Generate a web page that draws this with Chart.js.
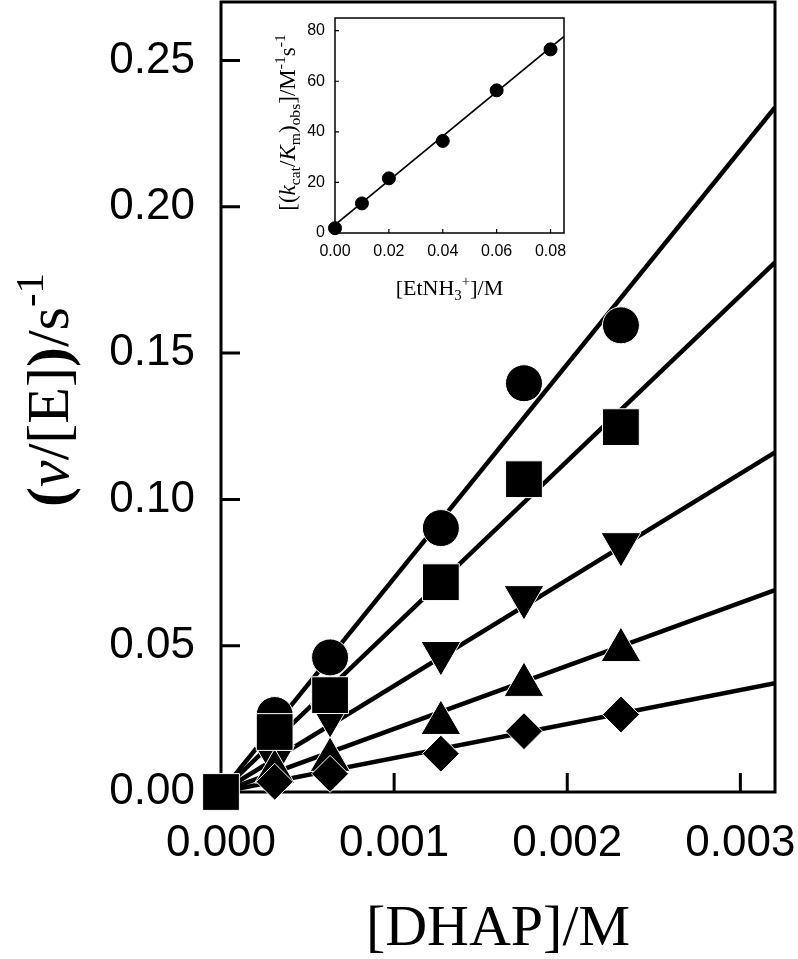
<!DOCTYPE html>
<html>
<head>
<meta charset="utf-8">
<script src="https://cdn.jsdelivr.net/npm/chart.js@4.4.1/dist/chart.umd.min.js"></script>
<style>
  html, body { margin: 0; padding: 0; background: #fff; }
  #wrap { position: relative; width: 798px; height: 959px; }
  #main { position: absolute; left: 0; top: 0; }
  #inset { position: absolute; left: 260px; top: 8px; }
</style>
</head>
<body>
<div id="wrap">
  <canvas id="main" width="798" height="959"></canvas>
  <canvas id="inset" width="320" height="300"></canvas>
</div>
<script>
// main plot: rate vs [DHAP], one series per [EtNH3+]
const dhap = [0, 0.00031, 0.00063, 0.00127, 0.00175, 0.00231];
const rateCircle = [null, 0.0263, 0.0460, 0.0902, 0.1397, 0.1595];
const rateSquare = [0, 0.0205, 0.0331, 0.0717, 0.1069, 0.1247];
const rateTriDown = [null, 0.0120, 0.0262, 0.0475, 0.0666, 0.0847];
const rateTriUp = [null, 0.0070, 0.0110, 0.0236, 0.0366, 0.0485];
const rateDiamond = [null, 0.0035, 0.0062, 0.0131, 0.0208, 0.0265];

// fitted lines (start and end)
const fitX = [0, 0.0032];
const fitCircle = [0, 0.234];
const fitSquare = [0, 0.181];
const fitTriDown = [0, 0.1161];
const fitTriUp = [0, 0.069];
const fitDiamond = [0, 0.0372];

const mainXTicks = ['0.000', '0.001', '0.002', '0.003'];
const mainYTicks = ['0.00', '0.05', '0.10', '0.15', '0.20', '0.25'];

// inset: (kcat/Km)obs vs [EtNH3+]
const etnh3 = [0, 0.01, 0.02, 0.04, 0.06, 0.08];
const kcatKm = [1.9, 11.7, 21.6, 36.4, 56.4, 72.6];
const insetFitX = [0, 0.085];
const insetFitY = [3.2, 77.7];

Chart.defaults.font.family = '"Liberation Sans", Arial, sans-serif';
Chart.defaults.color = '#000';

const pts = (xs, ys) => xs.map((x, i) => ({ x: x, y: ys[i] })).filter(p => p.y !== null);

// no extra room for labels hanging over the ends
const zero = () => ({ left: 0, top: 0, right: 0, bottom: 0 });
const noPad = s => {
  s.paddingTop = 0; s.paddingBottom = 0; s.paddingLeft = 0; s.paddingRight = 0;
  if (s._margins) Object.assign(s._margins, zero());
  s.getPadding = zero;
};

// box around the plot area plus inward ticks
const frameTicks = {
  id: 'frameTicks',
  beforeDatasetsDraw(chart, args, opts) {
    const { ctx, chartArea: a, scales } = chart;
    ctx.save();
    ctx.strokeStyle = '#000';
    ctx.lineWidth = opts.width;
    ctx.strokeRect(a.left, a.top, a.right - a.left, a.bottom - a.top);
    ctx.beginPath();
    scales.x.ticks.forEach(t => {
      const px = scales.x.getPixelForValue(t.value);
      ctx.moveTo(px, a.bottom);
      ctx.lineTo(px, a.bottom - opts.len);
    });
    scales.y.ticks.forEach(t => {
      const py = scales.y.getPixelForValue(t.value);
      ctx.moveTo(a.left, py);
      ctx.lineTo(a.left + opts.len, py);
    });
    ctx.lineWidth = opts.tickWidth;
    ctx.stroke();
    ctx.restore();
  }
};

// text with italic / sub / sup parts
function drawRich(ctx, segs, x, y, size, rot) {
  const fontOf = s => {
    const sz = (s.sub || s.sup) ? size * 0.68 : size;
    return (s.it ? 'italic ' : '') + (s.b ? 'bold ' : '') + sz + 'px "Liberation Serif", "Times New Roman", serif';
  };
  let total = 0;
  segs.forEach(s => { ctx.font = fontOf(s); s.w = ctx.measureText(s.t).width; total += s.w; });
  ctx.save();
  ctx.translate(x, y);
  if (rot) ctx.rotate(rot);
  ctx.fillStyle = '#000';
  ctx.textBaseline = 'alphabetic';
  ctx.textAlign = 'left';
  let cx = -total / 2;
  segs.forEach(s => {
    ctx.font = fontOf(s);
    const dy = s.sub ? size * 0.22 : (s.sup ? -size * 0.42 : 0);
    ctx.fillText(s.t, cx, dy);
    cx += s.w;
  });
  ctx.restore();
}

const axisTitles = {
  id: 'axisTitles',
  afterDraw(chart, args, opts) {
    const { ctx, chartArea: a } = chart;
    const o = opts;
    drawRich(ctx, o.xSegs, (a.left + a.right) / 2, a.bottom + o.xOff, o.xSize, 0);
    drawRich(ctx, o.ySegs, a.left - o.yOff, (a.top + a.bottom) / 2 + o.yShift, o.ySize, -Math.PI / 2);
  }
};

const marker = (label, xs, ys, style, r, rot, order) => ({
  label: label,
  data: pts(xs, ys),
  pointStyle: style,
  pointRadius: r,
  rotation: rot,
  backgroundColor: '#000',
  borderColor: '#fff',
  borderWidth: 1,
  showLine: false,
  clip: false,
  order: order
});

const fitLine = (ys) => ({
  data: pts(fitX, ys),
  showLine: true,
  borderColor: '#000',
  borderWidth: 4.5,
  pointRadius: 0,
  order: 10
});

new Chart(document.getElementById('main'), {
  type: 'scatter',
  data: {
    datasets: [
      fitLine(fitCircle), fitLine(fitSquare), fitLine(fitTriDown), fitLine(fitTriUp), fitLine(fitDiamond),
      marker('0.08 M', dhap, rateCircle, 'circle', 18.5, 0, 5),
      marker('0.04 M', dhap, rateTriDown, 'triangle', 23, 180, 4),
      marker('0.02 M', dhap, rateTriUp, 'triangle', 23, 0, 3),
      marker('0.01 M', dhap, rateDiamond, 'rectRot', 18.5, 0, 2),
      marker('0.06 M', dhap, rateSquare, 'rect', 26, 0, 1)
    ]
  },
  options: {
    responsive: false,
    animation: false,
    // fixed plot box, labels may hang over the ends
    layout: { autoPadding: false, padding: { top: 2, right: 23, left: 0, bottom: 0 } },
    plugins: {
      legend: { display: false },
      tooltip: { enabled: false },
      frameTicks: { width: 3, tickWidth: 3, len: 19 },
      axisTitles: {
        xSegs: [{ t: '[DHAP]/M' }],
        xSize: 58, xOff: 153,
        ySegs: [{ t: '(', b: true }, { t: 'ν', it: true }, { t: '/[E]' }, { t: ')', b: true }, { t: '/s' }, { t: '-1', sup: true }],
        ySize: 60, yOff: 153, yShift: -7
      }
    },
    scales: {
      x: {
        type: 'linear', min: 0, max: 0.0032,
        grid: { display: false, drawTicks: false },
        border: { display: false },
        ticks: {
          stepSize: 0.001, includeBounds: false, padding: 25,
          font: { size: 44 }, maxRotation: 0,
          callback: (v, i) => mainXTicks[i]
        },
        afterFit: s => { s.height = 167; noPad(s); }
      },
      y: {
        type: 'linear', min: 0, max: 0.27,
        grid: { display: false, drawTicks: false },
        border: { display: false },
        ticks: {
          stepSize: 0.05, includeBounds: false, padding: 26,
          font: { size: 44 },
          callback: (v, i) => mainYTicks[i]
        },
        afterFit: s => { s.width = 221; noPad(s); }
      }
    }
  },
  plugins: [frameTicks, axisTitles]
});

new Chart(document.getElementById('inset'), {
  type: 'scatter',
  data: {
    datasets: [
      {
        data: pts(insetFitX, insetFitY),
        showLine: true, borderColor: '#000', borderWidth: 1.6, pointRadius: 0, order: 2
      },
      {
        data: pts(etnh3, kcatKm),
        pointStyle: 'circle', pointRadius: 6.5, backgroundColor: '#000', borderColor: '#000',
        showLine: false, clip: false, order: 1
      }
    ]
  },
  options: {
    responsive: false,
    animation: false,
    layout: { autoPadding: false, padding: { top: 10, right: 16, left: 0, bottom: 0 } },
    plugins: {
      legend: { display: false },
      tooltip: { enabled: false },
      frameTicks: { width: 1.5, tickWidth: 1.2, len: 4 },
      axisTitles: {
        xSegs: [{ t: '[EtNH' }, { t: '3', sub: true }, { t: '+', sup: true }, { t: ']/M' }],
        xSize: 22, xOff: 62,
        ySegs: [{ t: '[(' }, { t: 'k', it: true }, { t: 'cat', sub: true }, { t: '/' }, { t: 'K', it: true },
                { t: 'm', sub: true }, { t: ')' }, { t: 'obs', sub: true }, { t: ']/M' }, { t: '-1', sup: true },
                { t: 's' }, { t: '-1', sup: true }],
        ySize: 23, yOff: 40, yShift: -3
      }
    },
    scales: {
      x: {
        type: 'linear', min: 0, max: 0.085,
        grid: { display: false, drawTicks: false },
        border: { display: false },
        ticks: {
          stepSize: 0.02, includeBounds: false, padding: 9, maxRotation: 0,
          font: { size: 16 },
          callback: v => v.toFixed(2)
        },
        afterFit: s => { s.height = 75; noPad(s); }
      },
      y: {
        type: 'linear', min: 0, max: 85,
        grid: { display: false, drawTicks: false },
        border: { display: false },
        ticks: {
          stepSize: 20, includeBounds: false, padding: 10,
          font: { size: 16 },
          callback: v => v.toFixed(0)
        },
        afterFit: s => { s.width = 75; noPad(s); }
      }
    }
  },
  plugins: [frameTicks, axisTitles]
});
</script>
</body>
</html>
